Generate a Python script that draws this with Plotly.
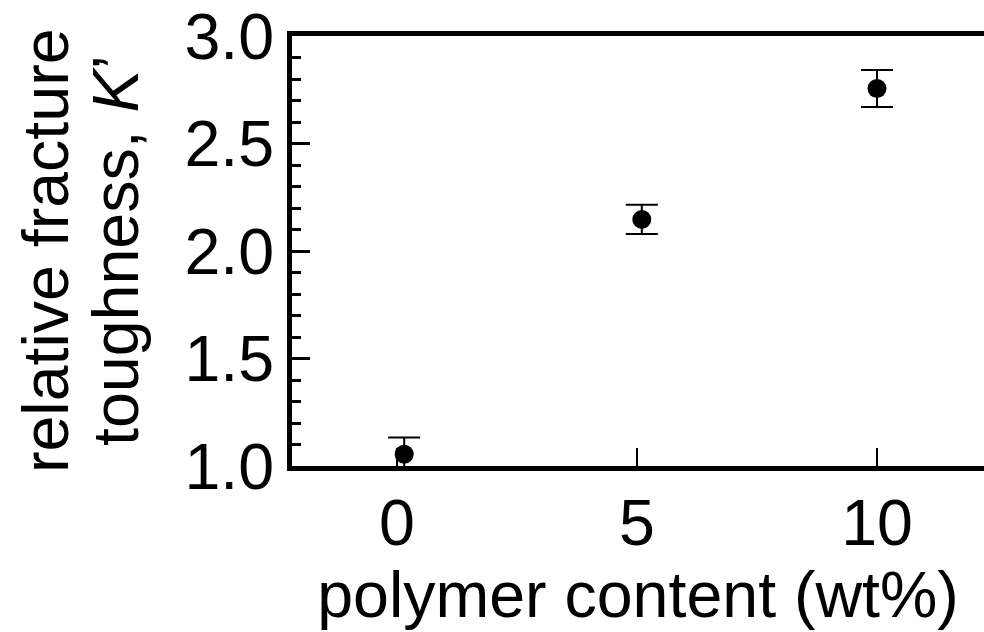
import plotly.graph_objects as go

# ---- data ----
polymer_wt = [0.15, 5.1, 10.0]
toughness = [1.055, 2.147, 2.756]
toughness_err = [0.078, 0.068, 0.086]
x_tick_vals = [0, 5, 10]
x_tick_text = ["0", "5", "10"]
y_tick_vals = [1.0, 1.5, 2.0, 2.5, 3.0]
y_tick_text = ["1.0", "1.5", "2.0", "2.5", "3.0"]
x_title = "polymer content (wt%)"
y_title_lines = ["relative fracture", "toughness, <i>K</i>’"]

# ---- layout geometry ----
W, H = 984, 632
L, R, T, B = 292, 0, 36, 166
plot_w = W - L - R
x_zero_px = 397.0
px_per_unit = 48.0
x_range = [(L - x_zero_px) / px_per_unit, (W - R - x_zero_px) / px_per_unit]

FONT = "Liberation Sans, Arial, Helvetica, sans-serif"
FS = 64.5

fig = go.Figure()
fig.add_trace(go.Scatter(
    x=polymer_wt, y=toughness, mode="markers",
    marker=dict(size=19, color="black"),
    error_y=dict(type="data", array=toughness_err, visible=True,
                 color="black", thickness=2, width=16),
    showlegend=False,
))

def px_to_paper_x(px):
    return (px - L) / plot_w

annots = []
for text, px in zip(y_title_lines, [46, 116]):
    annots.append(dict(
        text=text, xref="paper", yref="paper",
        x=px_to_paper_x(px), y=0.5, xanchor="center", yanchor="middle",
        textangle=-90, showarrow=False,
        font=dict(family=FONT, size=FS, color="black"),
    ))

fig.update_layout(
    width=W, height=H,
    margin=dict(l=L, r=R, t=T, b=B, pad=0),
    paper_bgcolor="white", plot_bgcolor="white",
    font=dict(family=FONT, size=FS, color="black"),
    annotations=annots,
    xaxis=dict(
        range=x_range, tickmode="array", tickvals=x_tick_vals, ticktext=x_tick_text,
        ticks="inside", ticklen=18, tickwidth=2, tickcolor="black",
        showline=True, linewidth=5, linecolor="black", mirror=True,
        showgrid=False, zeroline=False, ticklabelstandoff=-3,
        title=dict(text=x_title, standoff=5, font=dict(family=FONT, size=FS)),
        tickfont=dict(family=FONT, size=FS),
    ),
    yaxis=dict(
        range=[1, 3], tickmode="array", tickvals=y_tick_vals, ticktext=y_tick_text,
        ticks="inside", ticklen=18, tickwidth=2.5, tickcolor="black",
        minor=dict(tickmode="linear", tick0=1, dtick=0.1, ticks="inside",
                   ticklen=8.5, tickwidth=2.5, tickcolor="black", showgrid=False),
        showline=True, linewidth=5, linecolor="black", mirror=False,
        showgrid=False, zeroline=False,
        tickfont=dict(family=FONT, size=FS),
    ),
)

fig.write_html("out.html")
